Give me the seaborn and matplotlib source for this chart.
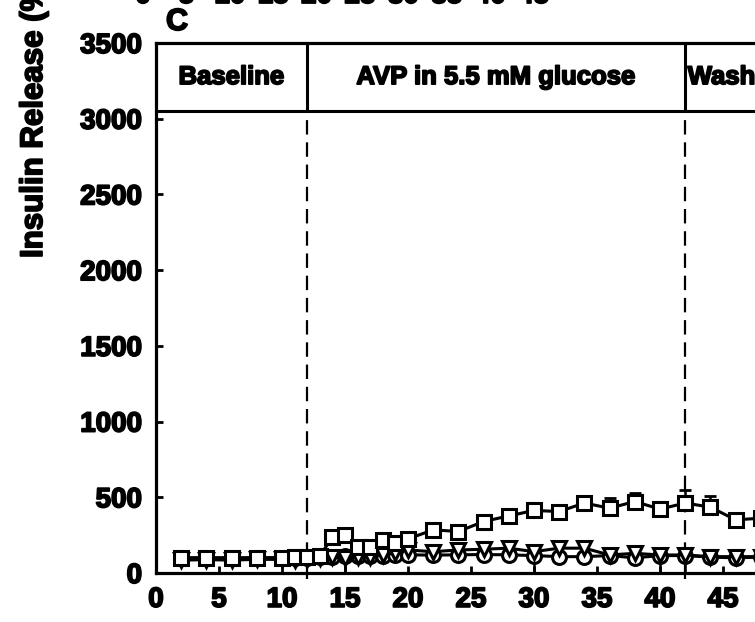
import pandas as pd
import matplotlib.pyplot as plt
import matplotlib.patheffects as pe
import seaborn as sns

# sampling times (min)
time_min = [2, 4, 6, 8, 10, 11, 12, 13, 14, 15, 16, 17, 18, 19, 20,
            22, 24, 26, 28, 30, 32, 34, 36, 38, 40, 42, 44, 46, 48]

# insulin release (% of baseline)
square_vals = [100, 100, 100, 100, 102, 105, 108, 112, 238, 252, 175, 172, 218, 195, 225,
               285, 274, 340, 377, 413, 406, 462, 428, 472, 422, 462, 435, 351, 362]
square_err = [15, 15, 15, 15, 15, 15, 15, 15, 20, 25, 20, 20, 20, 20, 20,
              25, 25, 25, 30, 35, 30, 40, 66, 58, 30, 85, 75, 30, 30]
circle_vals = [100, 100, 100, 100, 100, 100, 100, 105, 108, 110, 110, 110, 115, 118, 120,
               118, 120, 122, 120, 115, 108, 108, 115, 100, 115, 115, 105, 100, 105]
triangle_vals = [85, 88, 85, 90, 90, 88, 92, 98, 105, 97, 104, 104, 119, 130, 152,
                 141, 152, 157, 164, 141, 164, 164, 119, 130, 119, 119, 108, 108, 108]
triangle_err = [0, 50, 0, 0, 60, 0, 0, 0, 0, 95, 0, 0, 0, 0, 0,
                0, 0, 0, 0, 135, 0, 0, 0, 0, 115, 115, 0, 0, 0]

x_ticks = [0, 5, 10, 15, 20, 25, 30, 35, 40, 45, 50]
y_ticks = [0, 500, 1000, 1500, 2000, 2500, 3000, 3500]
phase_edges = [12, 42]
phase_labels = ['Baseline', 'AVP in 5.5 mM glucose', 'Washout']
phase_centers = [6, 27, 42.2]
# tick labels of the panel above (cut off by the crop)
top_tick_labels = ['0', '5', '10', '15', '20', '25', '30', '35', '40', '45']

sns.set_theme(style='ticks')
plt.rcParams['font.family'] = ['Liberation Sans', 'DejaVu Sans']
plt.rcParams['font.weight'] = 'bold'
for k in ['text.color', 'axes.labelcolor', 'xtick.color', 'ytick.color', 'axes.edgecolor']:
    plt.rcParams[k] = 'black'

# heavy, blotchy print look
heavy = [pe.Stroke(linewidth=1.3, foreground='black'), pe.Normal()]

W, H = 755, 622
fig = plt.figure(figsize=(W / 100, H / 100), dpi=100)
# axes run past the right edge, like the cropped original
ax = fig.add_axes([156 / W, 49 / H, 630 / W, 530 / H])

df = pd.DataFrame({'time': time_min, 'square': square_vals,
                   'circle': circle_vals, 'triangle': triangle_vals})

mk = dict(markersize=10, markerfacecolor='white', markeredgecolor='black',
          markeredgewidth=2.2, color='black', lw=2.2)

ax.errorbar(time_min, triangle_vals, yerr=[triangle_err, [0] * len(time_min)],
            fmt='none', ecolor='black', elinewidth=1.8, capsize=0, zorder=2)
ax.errorbar(time_min, square_vals, yerr=[[0] * len(time_min), square_err],
            fmt='none', ecolor='black', elinewidth=1.8, capsize=4, capthick=2, zorder=3)

sns.lineplot(data=df, x='time', y='circle', marker='o', ax=ax, zorder=3, **mk)
sns.lineplot(data=df, x='time', y='triangle', marker='v', ax=ax, zorder=4, **mk)
sns.lineplot(data=df, x='time', y='square', marker='s', ax=ax, zorder=5, **mk)

# phase header box
ax.axhline(3050, color='black', lw=2.2)
ax.vlines(phase_edges, 3050, 3500, color='black', lw=2.2)
ax.vlines(phase_edges, -40, 3050, color='black', lw=1.6,
          linestyles=(0, (6.5, 3.5)), clip_on=False, zorder=1)
for xc, lab in zip(phase_centers, phase_labels):
    ax.text(xc, 3275, lab, ha='left' if lab == 'Washout' else 'center',
            va='center', fontsize=18.5, fontweight='bold', clip_on=False,
            path_effects=heavy)

ax.set_xlim(0, 50)
ax.set_ylim(0, 3500)
ax.set_xticks(x_ticks)
ax.set_yticks(y_ticks)
ax.set_xticklabels([str(t) for t in x_ticks])
ax.set_yticklabels([str(t) for t in y_ticks])
ax.tick_params(direction='in', length=5, width=2, labelsize=20, pad=10, color='black')
for lab in ax.get_xticklabels() + ax.get_yticklabels():
    lab.set_fontweight('bold')
    lab.set_path_effects(heavy)
for s in ['left', 'bottom', 'top']:
    ax.spines[s].set_linewidth(2.3)
ax.spines['right'].set_visible(False)
ax.set_xlabel('')
ax.set_ylabel('')

fig.text(34 / W, 1 - 258 / H, 'Insulin Release (%)', rotation=90, ha='center',
         va='bottom', fontsize=22.5, fontweight='bold', path_effects=heavy)
fig.text(166 / W, 1 - 37 / H, 'C', ha='left', va='bottom', fontsize=22,
         fontweight='bold', path_effects=heavy)
for i, lab in enumerate(top_tick_labels):
    fig.text((143 + 43.4 * i) / W, 1 - 9 / H, lab, ha='center', va='bottom',
             fontsize=20, fontweight='bold', path_effects=heavy)

fig.savefig('out.png', dpi=100)
